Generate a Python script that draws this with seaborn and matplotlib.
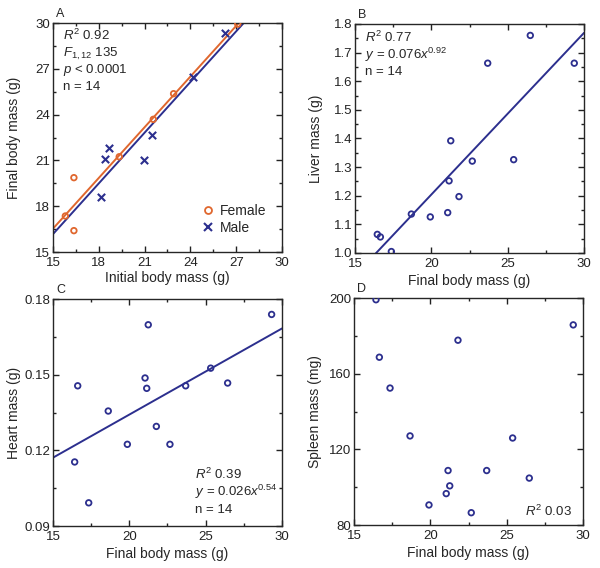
import numpy as np
import pandas as pd
import matplotlib
matplotlib.use("Agg")
import matplotlib.pyplot as plt
from matplotlib.ticker import MultipleLocator, FormatStrFormatter
from matplotlib.lines import Line2D
import seaborn as sns

# panel A: initial vs final body mass (g), by sex
female_initial = [16.37, 15.81, 16.37, 19.34, 21.57, 22.90, 27.10]
female_final = [19.87, 17.36, 16.40, 21.24, 23.69, 25.37, 29.93]
male_initial = [26.29, 24.15, 21.50, 18.67, 18.43, 20.96, 18.17]
male_final = [29.32, 26.48, 22.66, 21.79, 21.11, 21.02, 18.62]

# panels B-D: organ mass vs final body mass (g)
liver_body = [16.46, 16.66, 17.38, 18.69, 19.93, 21.07, 21.16, 21.27, 21.81, 22.68, 23.69, 25.39, 26.48, 29.36]
liver_mass = [1.065, 1.056, 1.005, 1.136, 1.126, 1.141, 1.252, 1.392, 1.197, 1.321, 1.663, 1.326, 1.760, 1.663]
heart_body = [16.42, 16.62, 17.34, 18.62, 19.87, 21.03, 21.14, 21.24, 21.77, 22.66, 23.69, 25.33, 26.44, 29.32]
heart_mass = [0.1154, 0.1456, 0.0992, 0.1356, 0.1224, 0.1487, 0.1446, 0.1698, 0.1295, 0.1224, 0.1456, 0.1526, 0.1467, 0.1739]
spleen_body = [16.44, 16.66, 17.36, 18.67, 19.91, 21.04, 21.16, 21.27, 21.81, 22.68, 23.69, 25.39, 26.48, 29.36]
spleen_mass = [199.1, 168.7, 152.4, 127.1, 90.6, 96.6, 108.8, 100.7, 177.7, 86.5, 108.8, 126.0, 104.8, 185.8]

orange = '#e0672e'
navy = '#2c2f8e'

sns.set_style("ticks")
plt.rcParams['font.family'] = ['Liberation Sans', 'DejaVu Sans']
plt.rcParams['mathtext.fontset'] = 'custom'
plt.rcParams['mathtext.rm'] = 'Liberation Sans'
plt.rcParams['mathtext.it'] = 'Liberation Sans:italic'
plt.rcParams['axes.linewidth'] = 1.0

fig = plt.figure(figsize=(6, 5.68), dpi=100)
axA = fig.add_axes([0.0883, 0.5563, 0.3817, 0.4032])
axB = fig.add_axes([0.5917, 0.5546, 0.3817, 0.4032])
axC = fig.add_axes([0.0883, 0.0739, 0.3817, 0.3996])
axD = fig.add_axes([0.5900, 0.0757, 0.3817, 0.3996])


def style(ax, xlim, ylim, xmaj, ymaj, xlabel, ylabel, letter, xlab_y=-0.092):
    ax.set_xlim(xlim)
    ax.set_ylim(ylim)
    ax.xaxis.set_major_locator(MultipleLocator(xmaj))
    ax.xaxis.set_minor_locator(MultipleLocator(xmaj / 2))
    ax.yaxis.set_major_locator(MultipleLocator(ymaj))
    ax.yaxis.set_minor_locator(MultipleLocator(ymaj / 2))
    ax.tick_params(which='both', direction='in', top=True, right=True,
                   width=1.0, labelsize=9.5, colors='#222222')
    ax.tick_params(axis='x', pad=3.5)
    ax.tick_params(axis='y', pad=2)
    ax.tick_params(which='major', length=4.5)
    ax.tick_params(which='minor', length=2.5)
    ax.set_xlabel(xlabel, fontsize=10)
    ax.set_ylabel(ylabel, fontsize=10)
    ax.xaxis.set_label_coords(0.5, xlab_y)
    ax.yaxis.set_label_coords(-0.14, 0.5)
    ax.text(0.015, 1.028, letter, transform=ax.transAxes, fontsize=9, va='baseline')


def stats(ax, x, y0, lines, dy=0.074, ha='left'):
    for i, s in enumerate(lines):
        ax.text(x, y0 - i * dy, s, transform=ax.transAxes, fontsize=9.5,
                va='baseline', ha=ha)


def hollow(ax, x, y):
    sns.scatterplot(x=x, y=y, ax=ax, marker='o', s=16, facecolor='none',
                    edgecolor=navy, linewidth=1.3, zorder=3)


xs = np.linspace(15, 30, 50)

# ---- A: common slope, separate intercepts for each sex
fx = np.array(female_initial); fy = np.array(female_final)
mx = np.array(male_initial); my = np.array(male_final)
X = np.column_stack([np.r_[fx, mx], np.r_[np.ones(7), np.zeros(7)], np.r_[np.zeros(7), np.ones(7)]])
coef = np.linalg.lstsq(X, np.r_[fy, my], rcond=None)[0]
sns.lineplot(x=xs, y=coef[0] * xs + coef[1], ax=axA, color=orange, lw=1.4)
sns.lineplot(x=xs, y=coef[0] * xs + coef[2], ax=axA, color=navy, lw=1.4)
sns.scatterplot(x=fx, y=fy, ax=axA, marker='o', s=16, facecolor='none',
                edgecolor=orange, linewidth=1.3, zorder=3)
sns.scatterplot(x=mx, y=my, ax=axA, marker='x', s=28, color=navy, linewidth=1.5, zorder=3)
style(axA, (15, 30), (15, 30), 3, 3, 'Initial body mass (g)', 'Final body mass (g)', 'A',
      xlab_y=-0.082)
stats(axA, 0.044, 0.925, [r'$\mathit{R}^2$ 0.92', r'$\mathit{F}_{1,12}$ 135',
                          r'$\mathit{p}$ < 0.0001', 'n = 14'], dy=0.072)
handles = [Line2D([], [], ls='none', marker='o', mfc='none', mec=orange, mew=1.3, ms=5),
           Line2D([], [], ls='none', marker='x', color=navy, mew=1.5, ms=6)]
axA.legend(handles, ['Female', 'Male'], loc='lower right', bbox_to_anchor=(0.954, 0.05),
           frameon=False, fontsize=10, handletextpad=0.3, handlelength=1.0,
           labelspacing=0.25, borderaxespad=0)

# ---- B: least-squares line
bx = np.array(liver_body); by = np.array(liver_mass)
m, c = np.polyfit(bx, by, 1)
sns.lineplot(x=xs, y=m * xs + c, ax=axB, color=navy, lw=1.4)
hollow(axB, bx, by)
style(axB, (15, 30), (1.0, 1.8), 5, 0.1, 'Final body mass (g)', 'Liver mass (g)', 'B')
axB.yaxis.set_major_formatter(FormatStrFormatter('%.1f'))
stats(axB, 0.044, 0.923, [r'$\mathit{R}^2$ 0.77', r'$\mathit{y}$ = 0.076$\mathit{x}^{0.92}$', 'n = 14'])

# ---- C
cx = np.array(heart_body); cy = np.array(heart_mass)
m, c = np.polyfit(cx, cy, 1)
sns.lineplot(x=xs, y=m * xs + c, ax=axC, color=navy, lw=1.4)
hollow(axC, cx, cy)
style(axC, (15, 30), (0.09, 0.18), 5, 0.03, 'Final body mass (g)', 'Heart mass (g)', 'C')
axC.yaxis.set_major_formatter(FormatStrFormatter('%.2f'))
stats(axC, 0.62, 0.205, [r'$\mathit{R}^2$ 0.39', r'$\mathit{y}$ = 0.026$\mathit{x}^{0.54}$', 'n = 14'])

# ---- D
hollow(axD, spleen_body, spleen_mass)
style(axD, (15, 30), (80, 200), 5, 40, 'Final body mass (g)', 'Spleen mass (mg)', 'D')
stats(axD, 0.952, 0.041, [r'$\mathit{R}^2$ 0.03'], ha='right')

fig.savefig('out.png', dpi=100)
